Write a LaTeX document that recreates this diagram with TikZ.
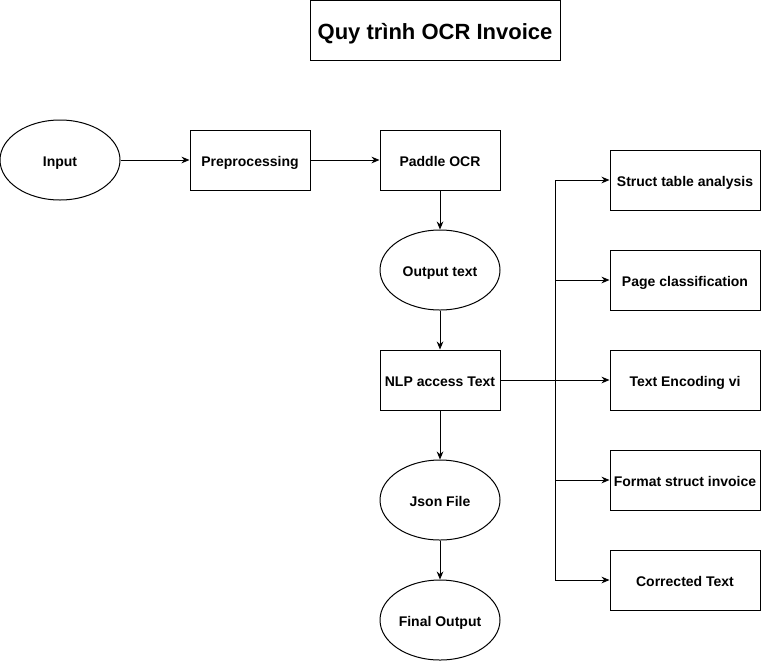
\documentclass[tikz,border=0pt]{standalone}
\usepackage{fontspec}
\setmainfont{Liberation Sans}
\usetikzlibrary{arrows.meta,shapes.geometric}
\begin{document}
\begin{tikzpicture}[x=0.75pt,y=-0.75pt,
  line width=0.75pt,
  every node/.style={font=\bfseries\fontsize{10.5}{12}\selectfont, inner sep=0pt, text height=9.1pt, text depth=0pt},
  boxnode/.style={draw, rectangle, minimum width=90pt, minimum height=45pt},
  wideboxnode/.style={draw, rectangle, minimum width=112.5pt, minimum height=45pt},
  ellnode/.style={draw, ellipse, minimum width=90pt, minimum height=60pt},
  conn/.style={-{Stealth[length=6pt,width=5pt]}}]
\useasboundingbox (0,0) rectangle (762,661);
\node[draw, rectangle, minimum width=187.5pt, minimum height=45pt, font=\bfseries\fontsize{16.5}{19}\selectfont, text height=14.3pt] (title) at (435,30) {Quy trình OCR Invoice};
\node[ellnode] (input) at (60,160) {Input};
\node[boxnode] (pre) at (250,160) {Preprocessing};
\node[boxnode] (ocr) at (440,160) {Paddle OCR};
\node[ellnode] (out) at (440,270) {Output text};
\node[boxnode] (nlp) at (440,380) {NLP access Text};
\node[ellnode] (json) at (440,500) {Json File};
\node[ellnode] (final) at (440,620) {Final Output};
\node[wideboxnode] (r1) at (685,180) {Struct table analysis};
\node[wideboxnode] (r2) at (685,280) {Page classification};
\node[wideboxnode] (r3) at (685,380) {Text Encoding vi};
\node[wideboxnode] (r4) at (685,480) {Format struct invoice};
\node[wideboxnode] (r5) at (685,580) {Corrected Text};
\coordinate (b1) at (555,180);
\coordinate (b2) at (555,280);
\coordinate (b4) at (555,480);
\coordinate (b5) at (555,580);
\draw[conn] (input) -- (pre);
\draw[conn] (pre) -- (ocr);
\draw[conn] (ocr) -- (out);
\draw[conn] (out) -- (nlp);
\draw[conn] (nlp) -- (json);
\draw[conn] (json) -- (final);
\draw[conn] (nlp) -- (r3);
\draw (b1) -- (b5);
\draw[conn] (b1) -- (r1);
\draw[conn] (b2) -- (r2);
\draw[conn] (b4) -- (r4);
\draw[conn] (b5) -- (r5);
\end{tikzpicture}
\end{document}
